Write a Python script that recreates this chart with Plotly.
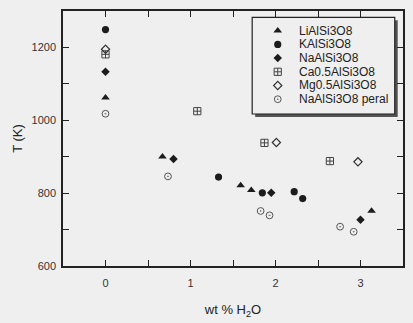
import plotly.graph_objects as go

# ---------------- data ----------------
series_names = ["LiAlSi3O8", "KAlSi3O8", "NaAlSi3O8", "Ca0.5AlSi3O8", "Mg0.5AlSi3O8", "NaAlSi3O8 peral"]

li_x = [0.0, 0.67, 1.59, 1.715, 3.13]
li_t = [1062, 900, 821, 808, 751]

k_x = [0.0, 1.33, 1.845, 2.22, 2.32]
k_t = [1249, 844, 801, 804, 785]

na_x = [0.0, 0.80, 1.95, 3.0]
na_t = [1133, 894, 801, 727]

ca_x = [0.0, 1.08, 1.87, 2.64]
ca_t = [1181, 1025, 938, 888]

mg_x = [0.0, 2.01, 2.97]
mg_t = [1195, 939, 886]

peral_x = [0.0, 0.735, 1.825, 1.93, 2.76, 2.92]
peral_t = [1018, 846, 751, 739, 708, 694]

# ---------------- styles ----------------
FONT = "Liberation Sans, Arial, sans-serif"
BG = "#efefef"
INK = "#1c1c1c"
styles = [
    dict(symbol="triangle-up", size=7.5, color=INK, line=dict(width=0)),
    dict(symbol="circle", size=7.2, color=INK, line=dict(width=0)),
    dict(symbol="diamond", size=6.5, color=INK, line=dict(width=0)),
    dict(symbol="square-cross-open", size=7.2, color="#444", line=dict(width=1, color="#444")),
    dict(symbol="diamond-open", size=6.3, color="#333", line=dict(width=1.2, color="#333")),
    dict(symbol="circle-open-dot", size=6.8, color="#555", line=dict(width=1, color="#555")),
]
data = [(li_x, li_t), (k_x, k_t), (na_x, na_t), (ca_x, ca_t), (mg_x, mg_t), (peral_x, peral_t)]

fig = go.Figure()
for name, (xs, ts), st in zip(series_names, data, styles):
    fig.add_trace(go.Scatter(x=xs, y=ts, mode="markers", name=name,
                             marker=st, showlegend=False))

# ---------------- legend (custom, to match compact spacing) ----------------
L, R, T, B = 63, 8, 11, 57
W, H = 413 - L - R, 323 - T - B
def px(xp): return (xp - L) / W
def py(yp): return (323 - B - yp) / H

box_x0, box_x1, box_y0, box_y1 = px(253.3), px(396.7), py(114), py(17.3)
sdx, sdy = 3 / W, 3 / H
fig.add_shape(type="rect", xref="paper", yref="paper",
              x0=box_x0 + sdx, x1=box_x1 + sdx, y0=box_y0 - sdy, y1=box_y1 - sdy,
              fillcolor="#555", line=dict(width=0), layer="below")
fig.add_shape(type="rect", xref="paper", yref="paper",
              x0=box_x0, x1=box_x1, y0=box_y0, y1=box_y1,
              fillcolor=BG, line=dict(width=1.2, color="#222"), layer="below")

row0, step = 30.7, 13.7
key_x, text_x = px(279), px(298)
for i, (name, st) in enumerate(zip(series_names, styles)):
    yk = py(row0 + i * step)
    fig.add_trace(go.Scatter(x=[key_x], y=[yk], mode="markers", marker=st,
                             xaxis="x2", yaxis="y2", showlegend=False, hoverinfo="skip"))
    fig.add_annotation(x=text_x, y=yk, xref="paper", yref="paper", text=name,
                       showarrow=False, xanchor="left", yanchor="middle",
                       font=dict(family=FONT, size=12, color="#222"))

axis_common = dict(showline=True, linecolor="#222", linewidth=1.5, mirror="ticks",
                   ticks="inside", ticklen=6, tickwidth=1.2, tickcolor="#222",
                   showgrid=False, zeroline=False,
                   tickfont=dict(family=FONT, size=11, color="#333"))

fig.update_layout(
    width=413, height=323,
    margin=dict(l=L, r=R, t=T, b=B),
    paper_bgcolor=BG, plot_bgcolor=BG,
    font=dict(family=FONT, color="#222"),
    xaxis=dict(range=[-0.5, 3.5], tick0=0, dtick=1, ticklabelstandoff=6,
               minor=dict(ticks="inside", ticklen=6, tickwidth=1.2, tickcolor="#222", dtick=0.5, tick0=0, showgrid=False),
               title=dict(text="wt % H<sub>2</sub>O", font=dict(family=FONT, size=13, color="#222"), standoff=17),
               **axis_common),
    yaxis=dict(range=[600, 1300], tick0=600, dtick=200, ticklabelstandoff=3,
               minor=dict(ticks="inside", ticklen=6, tickwidth=1.2, tickcolor="#222", dtick=100, tick0=600, showgrid=False),
               title=dict(text="T (K)", font=dict(family=FONT, size=13, color="#222"), standoff=6),
               **axis_common),
    xaxis2=dict(range=[0, 1], overlaying="x", visible=False, fixedrange=True),
    yaxis2=dict(range=[0, 1], overlaying="y", visible=False, fixedrange=True),
)

fig.write_html("out.html")
